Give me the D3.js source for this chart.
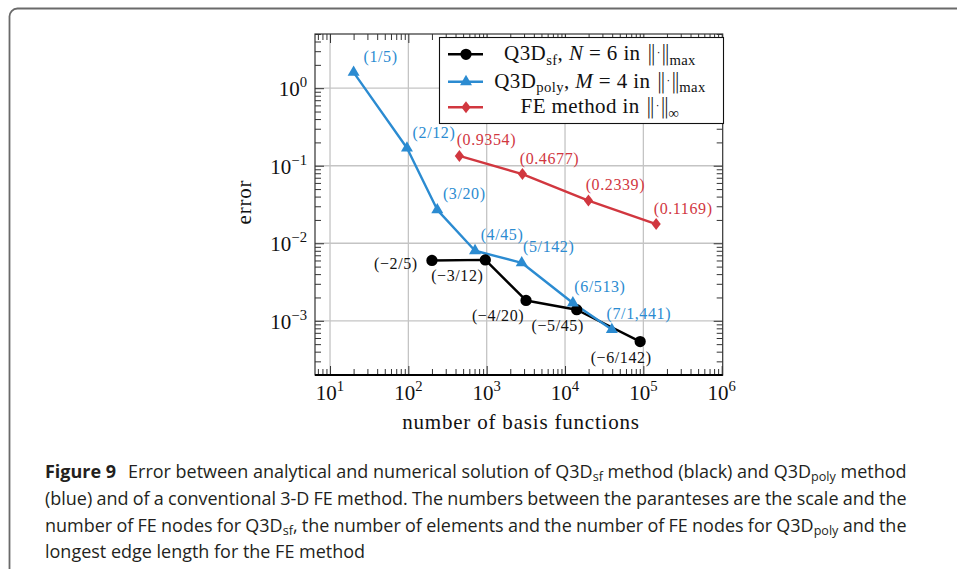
<!DOCTYPE html>
<html>
<head>
<meta charset="utf-8">
<title>error vs basis functions</title>
<style>
  body { margin: 0; background: #fff; }
  svg { display: block; }
</style>
</head>
<body>
<script src="https://cdn.jsdelivr.net/npm/d3@7"></script>
<svg id="mainsvg" width="957" height="572"></svg>
<script>
// Q3D_sf, N = 6 (scale / FE nodes)
const sfBasis = [200, 960, 3180, 14100, 91000];
const sfError = [0.0060, 0.0061, 0.00183, 0.00139, 0.00054];
const sfLabels = ['(−2/5)', '(−3/12)', '(−4/20)', '(−5/45)', '(−6/142)'];
const sfLabelSide = ['w', 'sw', 'sw', 's', 's'];

// Q3D_poly, M = 4 (elements / FE nodes)
const polyBasis = [20, 96, 234, 710, 2800, 12600, 39600];
const polyError = [1.6, 0.169, 0.027, 0.0080, 0.0056, 0.0017, 0.00077];
const polyLabels = ['(1/5)', '(2/12)', '(3/20)', '(4/45)', '(5/142)', '(6/513)', '(7/1,441)'];

// conventional FE method (longest edge length)
const feBasis = [448, 2860, 19900, 145600];
const feError = [0.134, 0.078, 0.0356, 0.0177];
const feLabels = ['(0.9354)', '(0.4677)', '(0.2339)', '(0.1169)'];

const xExponents = [1, 2, 3, 4, 5, 6];
const yExponents = [-3, -2, -1, 0];

const legendRows = [
    [['Q3D', ''], ['sf', 'sub'], [', ', ''], ['N', 'it'], [' = 6 in ', ''], ['‖·‖', 'norm'], ['max', 'sub']],
    [['Q3D', ''], ['poly', 'sub'], [', ', ''], ['M', 'it'], [' = 4 in ', ''], ['‖·‖', 'norm'], ['max', 'sub']],
    [['FE method in ', ''], ['‖·‖', 'norm'], ['∞', 'sub']]
];

const captionRows = [
    [['Figure 9', 'b'], ['Error between analytical and numerical solution of Q3D', ''], ['sf', 'sub'], [' method (black) and Q3D', ''], ['poly', 'sub'], [' method', '']],
    [['(blue) and of a conventional 3-D FE method. The numbers between the paranteses are the scale and the', '']],
    [['number of FE nodes for Q3D', ''], ['sf', 'sub'], [', the number of elements and the number of FE nodes for Q3D', ''], ['poly', 'sub'], [' and the', '']],
    [['longest edge length for the FE method', '']]
];

const BLUE = '#2b8bd1';
const RED = '#d1373f';
const SERIF = "'Liberation Serif', 'Times New Roman', serif";

const svg = d3.select('#mainsvg');
const plot = { left: 315, top: 34, right: 722.7, bottom: 375 };

const x = d3.scaleLog().domain([6.43, 1.03e6]).range([plot.left, plot.right]);
const y = d3.scaleLog().domain([2.0e-4, 5.0]).range([plot.bottom, plot.top]);

const xMajor = xExponents.map(e => 10 ** e);
const yMajor = yExponents.map(e => 10 ** e);

function minorTicks(scale) {
    const [a, b] = scale.domain();
    const out = [];
    for (let e = Math.floor(Math.log10(a)); e <= Math.ceil(Math.log10(b)); e++) {
        for (let m = 2; m <= 9; m++) {
            const v = m * 10 ** e;
            if (v >= a && v <= b) out.push(v);
        }
    }
    return out;
}

// text with sub/superscripts and italics built from tspans
function rich(sel, parts, size, subDrop = 0.26) {
    let shift = 0;
    parts.forEach(([t, kind]) => {
        const ts = sel.append('tspan').text(t);
        const target = kind === 'sub' ? size * subDrop : kind === 'sup' ? -size * 0.42 : 0;
        if (target !== shift) { ts.attr('dy', target - shift); shift = target; }
        if (kind === 'sub' || kind === 'sup') ts.attr('font-size', size * 0.7);
        if (kind === 'it') ts.attr('font-style', 'italic');
        if (kind === 'b') ts.attr('font-weight', 'bold');
        if (kind === 'norm') {
            ts.attr('font-family', "'DejaVu Sans', sans-serif")
                .attr('font-weight', 200)
                .attr('letter-spacing', -1.5);
        }
    });
}

// frame around figure + caption
svg.append('path')
    .attr('d', 'M9.5,569 L9.5,17 A8,8 0 0 1 17.5,8.5 L957,8.5')
    .attr('fill', 'none')
    .attr('stroke', '#6a6a6a')
    .attr('stroke-width', 1.8);

const g = svg.append('g');

// grid
g.append('g').selectAll('line').data(xMajor.filter(v => v < 1e6)).join('line')
    .attr('x1', d => x(d)).attr('x2', d => x(d))
    .attr('y1', plot.top).attr('y2', plot.bottom)
    .attr('stroke', '#c4c4c4').attr('stroke-width', 1.3);
g.append('g').selectAll('line').data(yMajor).join('line')
    .attr('y1', d => y(d)).attr('y2', d => y(d))
    .attr('x1', plot.left).attr('x2', plot.right)
    .attr('stroke', '#c4c4c4').attr('stroke-width', 1.3);

// inward ticks on all four sides
function tickAxis(axis, transform, values, len) {
    const a = g.append('g')
        .attr('transform', transform)
        .call(axis.tickValues(values).tickSize(-len).tickSizeOuter(0).tickFormat(''));
    a.select('.domain').remove();
    a.selectAll('line').attr('stroke', '#333').attr('stroke-width', 1);
}
const xMinor = minorTicks(x), yMinor = minorTicks(y);
tickAxis(d3.axisBottom(x), `translate(0,${plot.bottom})`, xMajor, 9);
tickAxis(d3.axisBottom(x), `translate(0,${plot.bottom})`, xMinor, 6);
tickAxis(d3.axisTop(x), `translate(0,${plot.top})`, xMajor, 9);
tickAxis(d3.axisTop(x), `translate(0,${plot.top})`, xMinor, 6);
tickAxis(d3.axisLeft(y), `translate(${plot.left},0)`, yMajor, 9);
tickAxis(d3.axisLeft(y), `translate(${plot.left},0)`, yMinor, 6);
tickAxis(d3.axisRight(y), `translate(${plot.right},0)`, yMajor, 9);
tickAxis(d3.axisRight(y), `translate(${plot.right},0)`, yMinor, 6);

g.append('rect')
    .attr('x', plot.left).attr('y', plot.top)
    .attr('width', plot.right - plot.left).attr('height', plot.bottom - plot.top)
    .attr('fill', 'none').attr('stroke', '#333').attr('stroke-width', 1.2);
g.append('line')
    .attr('x1', plot.left).attr('x2', plot.right)
    .attr('y1', plot.bottom).attr('y2', plot.bottom)
    .attr('stroke', '#000').attr('stroke-width', 1.8);

// tick labels 10^k
xExponents.forEach(e => {
    const t = g.append('text')
        .attr('x', x(10 ** e)).attr('y', 400)
        .attr('text-anchor', 'middle')
        .attr('font-family', SERIF).attr('font-size', 21)
        .attr('fill', '#111');
    rich(t, [['10', ''], [String(e), 'sup']], 21);
});
yExponents.forEach(e => {
    const t = g.append('text')
        .attr('x', 307).attr('y', y(10 ** e) + 8)
        .attr('text-anchor', 'end')
        .attr('font-family', SERIF).attr('font-size', 21)
        .attr('fill', '#111');
    rich(t, [['10', ''], [String(e).replace('-', '−'), 'sup']], 21);
});

// axis titles
g.append('text')
    .attr('x', 521).attr('y', 429)
    .attr('text-anchor', 'middle')
    .attr('font-family', SERIF).attr('font-size', 21).attr('letter-spacing', 0.8)
    .attr('fill', '#111')
    .text('number of basis functions');
g.append('text')
    .attr('transform', 'translate(251,202) rotate(-90)')
    .attr('text-anchor', 'middle')
    .attr('font-family', SERIF).attr('font-size', 21).attr('letter-spacing', 0.8)
    .attr('fill', '#111')
    .text('error');

// series
const series = [
    { xs: sfBasis, ys: sfError, labels: sfLabels, sides: sfLabelSide, color: '#000', mark: 'circle' },
    { xs: polyBasis, ys: polyError, labels: polyLabels, sides: polyLabels.map(() => 'ne'), color: BLUE, mark: 'triangle' },
    { xs: feBasis, ys: feError, labels: feLabels, sides: feLabels.map(() => 'ne'), color: RED, mark: 'diamond' }
];

const markPath = {
    circle: d3.symbol(d3.symbolCircle, 100)(),
    triangle: d3.symbol(d3.symbolTriangle, 62)(),
    diamond: 'M0,-6 L4.6,0 L0,6 L-4.6,0 Z'
};
const labelOffset = { ne: [27, -16], w: [-36, 3], sw: [-28, 15.5], s: [-19, 16] };

const line = d3.line().x(d => x(d[0])).y(d => y(d[1]));

series.forEach(s => {
    g.append('path')
        .datum(d3.zip(s.xs, s.ys))
        .attr('d', line)
        .attr('fill', 'none')
        .attr('stroke', s.color)
        .attr('stroke-width', 2.4)
        .attr('stroke-linejoin', 'round');
});
series.forEach(s => {
    g.append('g').selectAll('path').data(d3.zip(s.xs, s.ys)).join('path')
        .attr('d', markPath[s.mark])
        .attr('transform', d => `translate(${x(d[0])},${y(d[1])})`)
        .attr('fill', s.color);
});
series.forEach(s => {
    g.append('g').selectAll('text').data(d3.zip(s.xs, s.ys, s.labels, s.sides)).join('text')
        .attr('x', d => x(d[0]) + labelOffset[d[3]][0])
        .attr('y', d => y(d[1]) + labelOffset[d[3]][1])
        .attr('text-anchor', 'middle')
        .attr('dominant-baseline', 'central')
        .attr('font-family', SERIF).attr('font-size', 16).attr('letter-spacing', 0.6)
        .attr('fill', s.color === '#000' ? '#111' : s.color)
        .text(d => d[2]);
});

// legend
const legend = g.append('g');
legend.append('rect')
    .attr('x', 439.5).attr('y', 37.5).attr('width', 284).attr('height', 86)
    .attr('fill', '#fff').attr('stroke', '#111').attr('stroke-width', 1.1);
const rowY = [54.3, 81.7, 107.3];
series.forEach((s, i) => {
    legend.append('line')
        .attr('x1', 448).attr('x2', 483)
        .attr('y1', rowY[i]).attr('y2', rowY[i])
        .attr('stroke', s.color).attr('stroke-width', 2.4);
    legend.append('path')
        .attr('d', markPath[s.mark])
        .attr('transform', `translate(466,${rowY[i]})`)
        .attr('fill', s.color);
    const t = legend.append('text')
        .attr('x', 600).attr('y', rowY[i] + 6)
        .attr('text-anchor', 'middle')
        .attr('font-family', SERIF).attr('font-size', 21).attr('letter-spacing', 0.4)
        .attr('fill', '#111');
    rich(t, legendRows[i], 21, 0.22);
});

// caption: first line sets the horizontal squeeze, the next two are justified
const capFont = "'Open Sans', 'Noto Sans', sans-serif";
const capSize = 18;
const capLeft = 45, capWidth = 862;
const capBase = [478, 505, 531.7, 557.5];
const capNodes = captionRows.map(parts => {
    const grp = svg.append('g');
    const t = grp.append('text')
        .attr('font-family', capFont).attr('font-size', capSize)
        .attr('fill', '#231f20');
    rich(t, parts, capSize, 0.18);
    return { grp, t };
});
capNodes[0].t.select('tspan:nth-child(2)').attr('dx', 12);
const squeeze = capWidth / capNodes[0].t.node().getBBox().width;
capNodes.forEach(({ grp, t }, i) => {
    if (i === 1 || i === 2) {
        const w = t.node().getBBox().width;
        const spaces = (t.text().match(/ /g) || []).length;
        t.style('word-spacing', `${(capWidth / squeeze - w) / spaces}px`);
    }
    grp.attr('transform', `translate(${capLeft},${capBase[i]}) scale(${squeeze},1)`);
});
</script>
</body>
</html>
